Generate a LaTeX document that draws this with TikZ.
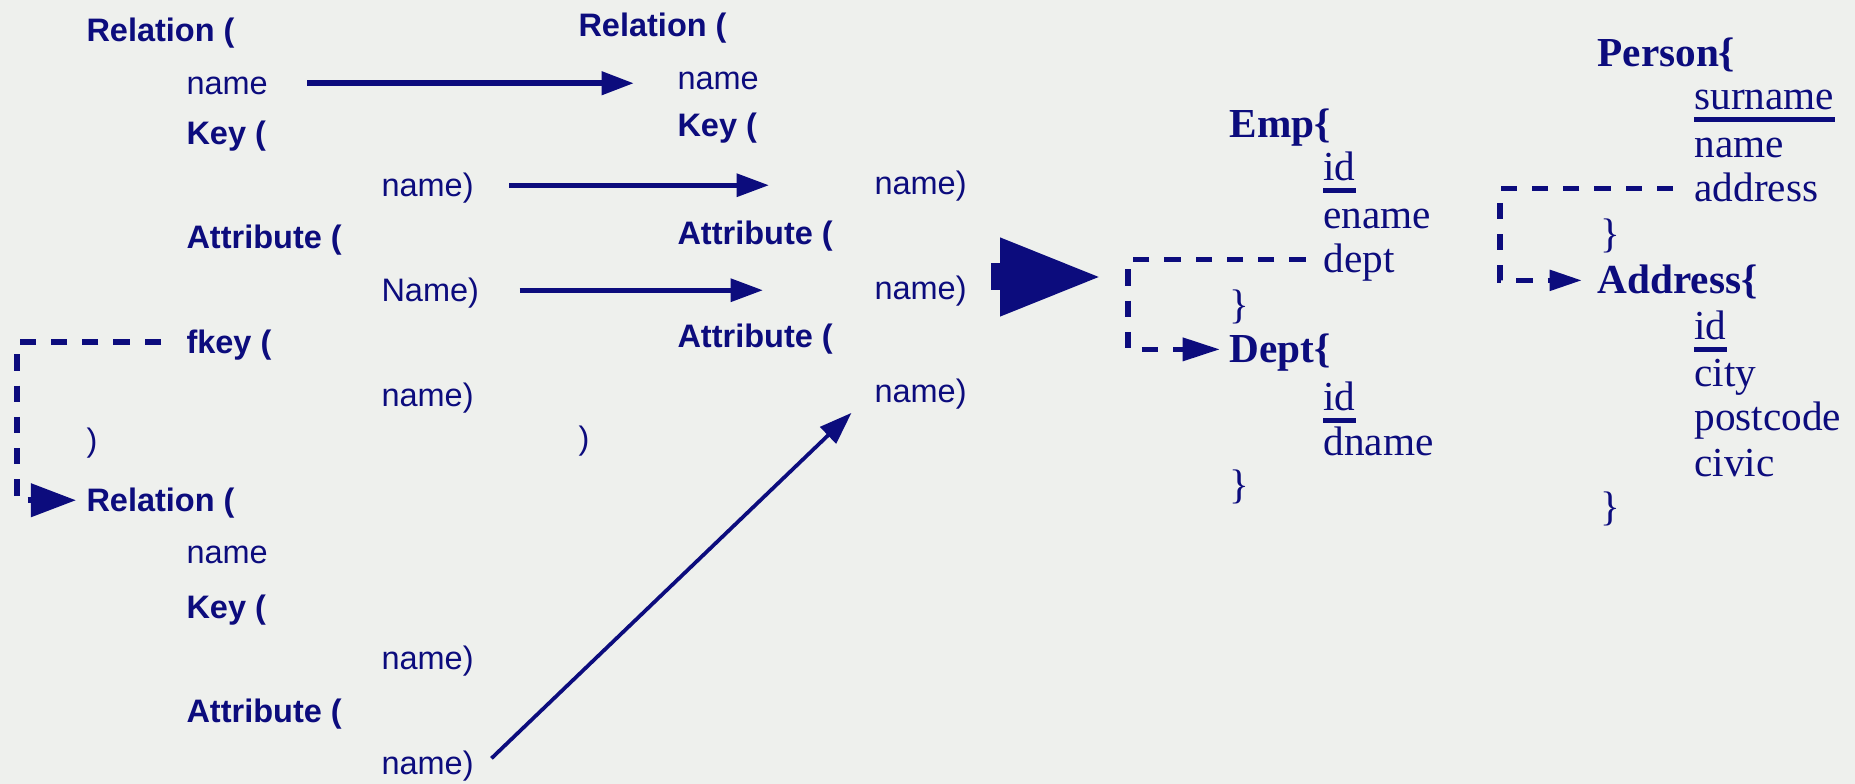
\documentclass[tikz,border=0pt]{standalone}
\usepackage{fontspec}
\setmainfont{Liberation Serif}
\setsansfont{Liberation Sans}
\usetikzlibrary{arrows.meta}
\definecolor{navy}{RGB}{12,12,125}
\definecolor{paper}{RGB}{238,240,237}

\begin{document}
\begin{tikzpicture}[x=0.4pt,y=0.4pt,yscale=-1,xscale=1,
  sf/.style={anchor=base west,inner sep=0pt,text=navy,font=\sffamily\fontsize{13}{15}\selectfont,text height=9.4pt,text depth=0pt},
  sfb/.style={sf,font=\sffamily\bfseries\fontsize{13}{15}\selectfont},
  rm/.style={anchor=base west,inner sep=0pt,text=navy,font=\rmfamily\fontsize{16.5}{19}\selectfont,text height=10.9pt,text depth=0pt},
  rmb/.style={rm,font=\rmfamily\bfseries\fontsize{16.5}{19}\selectfont},
  map/.style={draw=navy,-{Triangle[length=13pt,width=9pt]}},
  fk/.style={draw=navy,line width=2.2pt,dash pattern=on 6.5pt off 6pt},
  ul/.style={draw=navy,line width=2pt}]

\useasboundingbox (0,0) rectangle (1855,784);
\fill[paper] (0,0) rectangle (1855,784);

% Text Node: source relations
\node[sfb] (l1) at (86,42) {Relation (};
\node[sf]  (l2) at (186,95) {name};
\node[sfb] (l3) at (186,145) {Key (};
\node[sf]  (l4) at (381,197) {name)};
\node[sfb] (l5) at (186,249) {Attribute (};
\node[sf]  (l6) at (381,302) {Name)};
\node[sfb] (l7) at (186,354) {fkey (};
\node[sf]  (l8) at (381,407) {name)};
\node[sf]  (l9) at (86,452) {)};
\node[sfb] (s1) at (86,512) {Relation (};
\node[sf]  (s2) at (186,564) {name};
\node[sfb] (s3) at (186,619) {Key (};
\node[sf]  (s4) at (381,670) {name)};
\node[sfb] (s5) at (186,723) {Attribute (};
\node[sf]  (s6) at (381,775) {name)};

% Text Node: merged relation
\node[sfb] (m1) at (578,37) {Relation (};
\node[sf]  (m2) at (677,90) {name};
\node[sfb] (m3) at (677,137) {Key (};
\node[sf]  (m4) at (874,195) {name)};
\node[sfb] (m5) at (677,245) {Attribute (};
\node[sf]  (m6) at (874,300) {name)};
\node[sfb] (m7) at (677,348) {Attribute (};
\node[sf]  (m8) at (874,403) {name)};
\node[sf]  (m9) at (578,450) {)};

% Text Node: Emp / Dept
\node[rmb] (emp)    at (1229,138) {Emp\{};
\node[rm]  (empid)  at (1323,181) {id};
\node[rm]  (ename)  at (1323,229) {ename};
\node[rm]  (edept)  at (1323,273) {dept};
\node[rm]  (eclose) at (1229,319) {\}};
\node[rmb] (dept)   at (1229,363) {Dept\{};
\node[rm]  (did)    at (1323,411) {id};
\node[rm]  (dname)  at (1323,456) {dname};
\node[rm]  (dclose) at (1229,499) {\}};

% Text Node: Person / Address
\node[rmb] (person) at (1597,67) {Person\{};
\node[rm]  (psur)   at (1694,110) {surname};
\node[rm]  (pname)  at (1694,158) {name};
\node[rm]  (paddr)  at (1694,202) {address};
\node[rm]  (pclose) at (1600,248) {\}};
\node[rmb] (addr)   at (1597,294) {Address\{};
\node[rm]  (aid)    at (1694,340) {id};
\node[rm]  (acity)  at (1694,387) {city};
\node[rm]  (apost)  at (1694,431) {postcode};
\node[rm]  (acivic) at (1694,477) {civic};
\node[rm]  (aclose) at (1600,521) {\}};

% keys (yscale=-1, so a positive yshift goes down)
\draw[ul] ([yshift=4pt]empid.base west) -- ([yshift=4pt]empid.base east);
\draw[ul] ([yshift=4pt]did.base west) -- ([yshift=4pt]did.base east);
\draw[ul] ([yshift=4pt]psur.base west) -- ([yshift=4pt]psur.base east);
\draw[ul] ([yshift=4pt]aid.base west) -- ([yshift=4pt]aid.base east);

%Straight Lines: mapping
\draw[map,line width=2.4pt,shorten <=15.6pt,shorten >=17.2pt] (l2.east) -- (l2.east -| m2.west);
\draw[map,line width=2pt,shorten <=14pt,shorten >=42pt] (l4.east) -- (l4.east -| m4.west);
\draw[map,line width=2pt,shorten <=16pt,shorten >=44.4pt] (l6.east) -- (l6.east -| m6.west);
\draw[map,line width=1.5pt,shorten <=9.6pt,shorten >=12.5pt] (s6.base east) -- (m8.west);

%Straight Lines: foreign keys
\draw[fk,-{Triangle[length=18pt,width=13pt]}] ([xshift=-10pt]l7.west) -| ([xshift=-27.6pt]s1.west) -- ([xshift=-4pt]s1.west);
\draw[fk,-{Triangle[length=15pt,width=9pt]}] ([xshift=-7pt]edept.west) -| ([xshift=-40.4pt]dept.west) -- ([xshift=-3.6pt]dept.west);
\draw[fk,-{Triangle[length=13pt,width=8pt]}] ([xshift=-8.4pt]paddr.west) -| ([xshift=-38.8pt]addr.west) -- ([xshift=-6pt]addr.west);

% translation arrow
\coordinate (bigtail) at (991,277);
\coordinate (bigtip) at (1105,277);
\draw[navy,line width=10.8pt,-{Triangle[length=42pt,width=28pt]}] (bigtail) -- (bigtip);

\end{tikzpicture}
\end{document}
